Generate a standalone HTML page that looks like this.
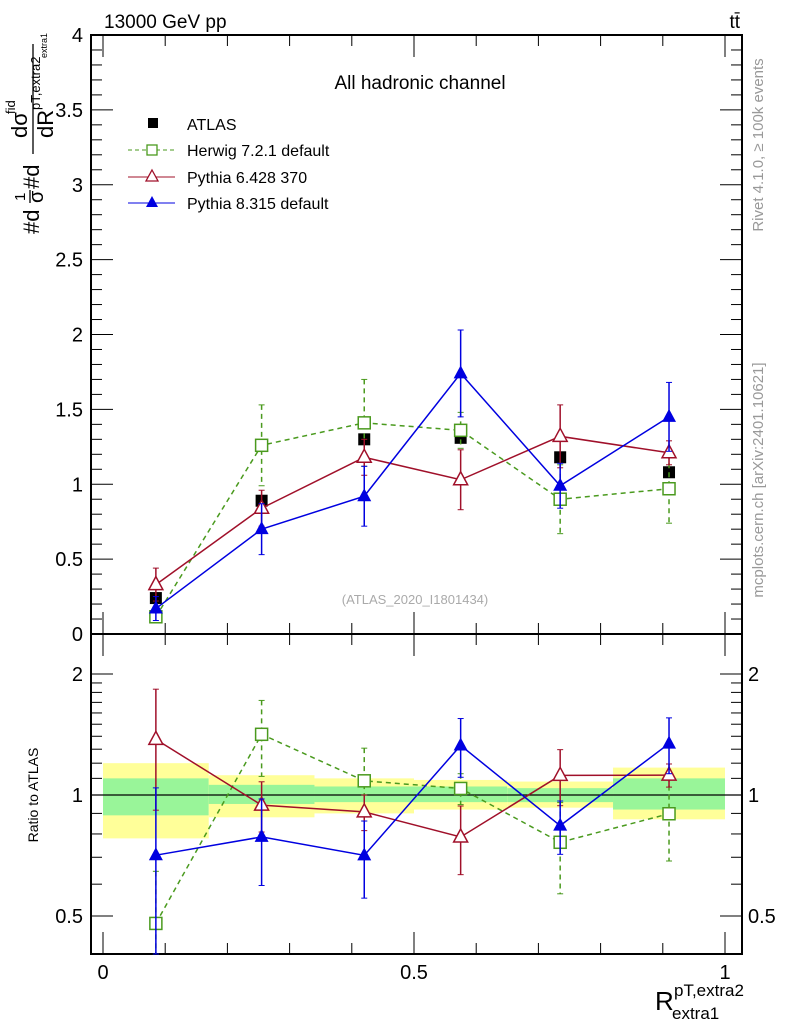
<!DOCTYPE html>
<html><head><meta charset="utf-8"><style>
html,body{margin:0;padding:0;background:#fff;}
svg{display:block;font-family:"Liberation Sans",sans-serif;}
</style></head><body>
<svg id="chart" width="786" height="1024" viewBox="0 0 786 1024">
<g id="bands"></g>
<g id="grid"></g>
<g id="series"></g>
<g>
  <rect x="148" y="118" width="10" height="10" fill="#000"/>
  <text x="187" y="130" font-size="16">ATLAS</text>
  <line x1="128" y1="150" x2="175" y2="150" stroke="#4a9a1e" stroke-dasharray="4,3"/>
  <rect x="147" y="145" width="10" height="10" fill="#fff" stroke="#4a9a1e" stroke-width="1.3"/>
  <text x="187" y="156" font-size="16">Herwig 7.2.1 default</text>
  <line x1="128" y1="177" x2="175" y2="177" stroke="#a0102a"/>
  <polygon points="152,170 158,181 146,181" fill="#fff" stroke="#a0102a" stroke-width="1.3"/>
  <text x="187" y="183" font-size="16">Pythia 6.428 370</text>
  <line x1="128" y1="203" x2="175" y2="203" stroke="#0000e0"/>
  <polygon points="152,196 158,207 146,207" fill="#0000e0"/>
  <text x="187" y="209" font-size="16">Pythia 8.315 default</text>
</g>
<text x="104" y="28" font-size="19">13000 GeV pp</text>
<text x="740" y="28" font-size="19" text-anchor="end">tt̄</text>
<text x="420" y="89" font-size="19" text-anchor="middle">All hadronic channel</text>
<text x="415" y="604" font-size="13" fill="#aaa" text-anchor="middle">(ATLAS_2020_I1801434)</text>
<text transform="translate(763,145) rotate(-90)" font-size="15" fill="#999" text-anchor="middle">Rivet 4.1.0, ≥ 100k events</text>
<text transform="translate(763,480) rotate(-90)" font-size="15" fill="#999" text-anchor="middle">mcplots.cern.ch [arXiv:2401.10621]</text>
<g transform="translate(33,234) rotate(-90)">
  <text x="0" y="6" font-size="22">#d</text>
  <text x="33" y="-8" font-size="15">1</text>
  <line x1="31" y1="-3" x2="44" y2="-3" stroke="#000" stroke-width="1.3"/>
  <text x="31" y="10" font-size="20">σ</text>
  <text x="45" y="6" font-size="22">#d</text>
  <line x1="80" y1="0" x2="190" y2="0" stroke="#000" stroke-width="1.3"/>
  <text x="96" y="-6" font-size="22">dσ</text>
  <text x="120" y="-18" font-size="13">fid</text>
  <text x="96" y="20" font-size="22">dR</text>
  <text x="124" y="7" font-size="13">pT,extra2</text>
  <text x="176" y="14" font-size="9">extra1</text>
</g>
<text transform="translate(38,795) rotate(-90)" font-size="14" text-anchor="middle">Ratio to ATLAS</text>
<g>
  <text x="655" y="1010" font-size="26">R</text>
  <text x="674" y="996" font-size="17">pT,extra2</text>
  <text x="672" y="1019" font-size="17">extra1</text>
</g>
</svg>
<script>
const binEdges=[0,0.17,0.34,0.5,0.65,0.82,1.0];
const binCenters=[0.085,0.255,0.42,0.575,0.735,0.91];
const atlasVals=[0.24,0.89,1.30,1.31,1.18,1.08];
const bandOuterUp=[1.20,1.12,1.10,1.09,1.08,1.17];
const bandOuterDn=[0.78,0.88,0.90,0.92,0.93,0.87];
const bandInnerUp=[1.10,1.06,1.05,1.05,1.04,1.10];
const bandInnerDn=[0.89,0.95,0.96,0.96,0.96,0.92];
const herwigVals=[0.115,1.26,1.41,1.36,0.90,0.97];
const herwigErr=[0.04,0.27,0.29,0.12,0.23,0.23];
const py6Vals=[0.33,0.84,1.18,1.03,1.32,1.21];
const py6Err=[0.11,0.12,0.12,0.20,0.21,0.08];
const py8Vals=[0.17,0.70,0.92,1.74,0.99,1.45];
const py8Err=[0.08,0.17,0.20,0.29,0.15,0.23];
const mainTicks=["0","0.5","1","1.5","2","2.5","3","3.5","4"];
const ratioTicks=[0.5,1,2];
const ratioMinor=[0.4,0.5,0.6,0.7,0.8,0.9,1,1.1,1.2,1.3,1.4,1.5,1.6,1.7,1.8,1.9,2];
const xTicks=["0","0.5","1"];

const NS="http://www.w3.org/2000/svg";
const L=91,R=742,T=35,MB=634,RB=954;
const X=v=>103+v*622;
const Y=v=>MB-v*(MB-T)/4;
const YR=v=>795-Math.log2(v)*121;
function mk(tag,attrs,parent){const e=document.createElementNS(NS,tag);for(const k in attrs)e.setAttribute(k,attrs[k]);parent.appendChild(e);return e;}
const bands=document.getElementById('bands'),grid=document.getElementById('grid'),ser=document.getElementById('series');

for(let i=0;i<binCenters.length;i++){
  const y=mk('rect',{x:X(binEdges[i]),y:YR(bandOuterUp[i]),width:X(binEdges[i+1])-X(binEdges[i]),height:YR(bandOuterDn[i])-YR(bandOuterUp[i]),fill:'#ffff99'},bands);
  
  
  const g=mk('rect',{x:X(binEdges[i]),y:YR(bandInnerUp[i]),width:X(binEdges[i+1])-X(binEdges[i]),height:YR(bandInnerDn[i])-YR(bandInnerUp[i]),fill:'#99f599'},bands);
  
  
}
const f1=mk('rect',{x:L,y:T,width:R-L,height:MB-T,fill:'none',stroke:'#000','stroke-width':2},grid);


const f2=mk('rect',{x:L,y:MB,width:R-L,height:RB-MB,fill:'none',stroke:'#000','stroke-width':2},grid);


mk('line',{x1:L,x2:R,y1:YR(1),y2:YR(1),stroke:'#000','stroke-width':1.2},grid);
for(let i=0;i<=40;i++){
  const v=i*0.1,y=Y(v),maj=(i%5===0);
  mk('line',{x1:L,x2:L+(maj?22:11),y1:y,y2:y,stroke:'#000'},grid);
  mk('line',{x1:R,x2:R-(maj?22:11),y1:y,y2:y,stroke:'#000'},grid);
}
mainTicks.forEach((t,i)=>{const tx=mk('text',{x:L-8,y:Y(i*0.5)+7,'font-size':20,'text-anchor':'end'},grid);tx.textContent=t;
  
  });
ratioMinor.forEach(v=>{
  const y=YR(v);if(y<MB||y>RB)return;
  const maj=ratioTicks.indexOf(v)>=0;
  mk('line',{x1:L,x2:L+(maj?22:11),y1:y,y2:y,stroke:'#000'},grid);
  mk('line',{x1:R,x2:R-(maj?22:11),y1:y,y2:y,stroke:'#000'},grid);
});
ratioTicks.forEach(v=>{
  const a=mk('text',{x:L-8,y:YR(v)+7,'font-size':20,'text-anchor':'end'},grid);a.textContent=String(v);
  
  
  const b=mk('text',{x:R+6,y:YR(v)+7,'font-size':20},grid);b.textContent=String(v);
  
  
});
for(let i=0;i<=10;i++){
  const x=X(i*0.1),maj=(i%5===0),len=maj?22:11;
  [[MB,-1],[T,1],[RB,-1],[MB,1]].forEach(([y0,d])=>mk('line',{x1:x,x2:x,y1:y0,y2:y0+d*len,stroke:'#000'},grid));
}
xTicks.forEach((t,i)=>{const tx=mk('text',{x:X(i*0.5),y:979,'font-size':20,'text-anchor':'middle'},grid);tx.textContent=t;
  
  });

function marker(kind,x,y,color,parent){
  if(kind==='sq')return mk('rect',{x:x-6,y:y-6,width:12,height:12,fill:'#fff',stroke:color,'stroke-width':1.5},parent);
  if(kind==='fsq')return mk('rect',{x:x-6,y:y-6,width:12,height:12,fill:color},parent);
  if(kind==='otri')return mk('polygon',{points:`${x},${y-8} ${x+7},${y+5} ${x-7},${y+5}`,fill:'#fff',stroke:color,'stroke-width':1.5},parent);
  return mk('polygon',{points:`${x},${y-8} ${x+7},${y+5} ${x-7},${y+5}`,fill:color},parent);
}
function clip(y,top,bot){return Math.max(top,Math.min(bot,y));}
function drawSeries(name,vals,err,color,kind,dash){
  const g=mk('g',{},ser);
  
  
  const pm=vals.map((v,i)=>`${X(binCenters[i])},${Y(v)}`).join(' ');
  const pr=vals.map((v,i)=>`${X(binCenters[i])},${clip(YR(v/atlasVals[i]),MB,RB)}`).join(' ');
  const a={fill:'none',stroke:color,'stroke-width':1.5};if(dash)a['stroke-dasharray']=dash;
  mk('polyline',Object.assign({points:pm},a),g);
  mk('polyline',Object.assign({points:pr},a),g);
  vals.forEach((v,i)=>{
    const x=X(binCenters[i]);
    const ea={stroke:color,'stroke-width':1.5};if(dash)ea['stroke-dasharray']=dash;
    const r=v/atlasVals[i],re=err[i]/atlasVals[i];
    const ys=[Y(v+err[i]),clip(Y(Math.max(0,v-err[i])),T,MB),clip(YR(r+re),MB,RB),clip(YR(Math.max(0.01,r-re)),MB,RB)];
    mk('line',Object.assign({x1:x,x2:x,y1:ys[0],y2:ys[1]},ea),g);
    mk('line',Object.assign({x1:x,x2:x,y1:ys[2],y2:ys[3]},ea),g);
    ys.forEach(yy=>mk('line',{x1:x-3,x2:x+3,y1:yy,y2:yy,stroke:color},g));
    const m1=marker(kind,x,Y(v),color,g);
    
    
    const m2=marker(kind,x,YR(r),color,g);
    
    
  });
}
atlasVals.forEach((v,i)=>{
  const m=marker('fsq',X(binCenters[i]),Y(v),'#000',ser);
  
  
});
drawSeries('herwig',herwigVals,herwigErr,'#4a9a1e','sq','5,4');
drawSeries('pythia6',py6Vals,py6Err,'#a0102a','otri',null);
drawSeries('pythia8',py8Vals,py8Err,'#0000e0','ftri',null);
</script>
</body></html>
